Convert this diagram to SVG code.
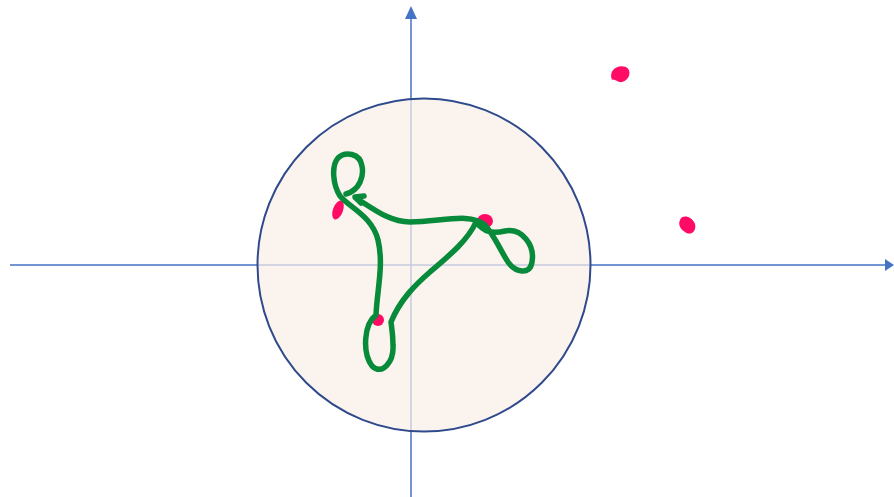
<svg xmlns="http://www.w3.org/2000/svg" width="894" height="497" viewBox="0 0 894 497">
<style>
.axis{stroke:#4472C4;stroke-width:1.5;fill:none}
.ink{stroke:#078A3A;stroke-width:5.5;fill:none;stroke-linecap:round;stroke-linejoin:round}
.dot{fill:#FF0A64}
</style>
<rect width="894" height="497" fill="#fff"/>
<g id="axes">
<line class="axis" x1="10" y1="265" x2="886" y2="265"/>
<polygon points="894,265 885,259 885,271" fill="#4472C4"/>
<line class="axis" x1="411" y1="497" x2="411" y2="16"/>
<polygon points="411,6 405,19 417,19" fill="#4472C4"/>
</g>
<g id="disc">
<circle cx="424" cy="265" r="166.5" fill="#F9EFE7" fill-opacity="0.72" stroke="#2F4A8C" stroke-width="2"/>
</g>
<g id="dots">
<ellipse class="dot" cx="338" cy="210" rx="5" ry="10" transform="rotate(20 338 210)"/>
<ellipse class="dot" cx="485" cy="221" rx="8" ry="7"/>
<ellipse class="dot" cx="378" cy="320" rx="6" ry="6"/>
<path class="dot" d="M 612,80 C 608,70 618,64 626,67 C 632,70 630,80 622,82 C 618,83 614,78 612,80 Z"/>
<path class="dot" d="M 680,220 C 682,214 692,216 695,224 C 697,232 690,236 685,232 C 680,229 678,224 680,220 Z"/>
</g>
<g id="connectors">
<path class="ink" d="M 346,194 C 360,190 364,176 362,166 C 360,153 345,151 338,158 C 331,166 333,185 340,196 C 350,208 372,216 378,240 C 384,265 377,290 376,315 C 364,324 362,352 372,366 C 382,376 394,362 393,345 C 393,335 392,330 391,322 C 400,300 415,285 430,272 C 450,255 468,240 476,222 C 484,232 492,234 505,231 C 522,228 535,245 532,262 C 530,276 515,272 508,262 C 500,250 496,238 485,225 C 470,212 440,222 410,222 C 390,222 375,210 356,198"/>
<path class="ink" d="M 364,196 L 355,197 L 361,203" stroke-width="4"/>
</g>
</svg>
